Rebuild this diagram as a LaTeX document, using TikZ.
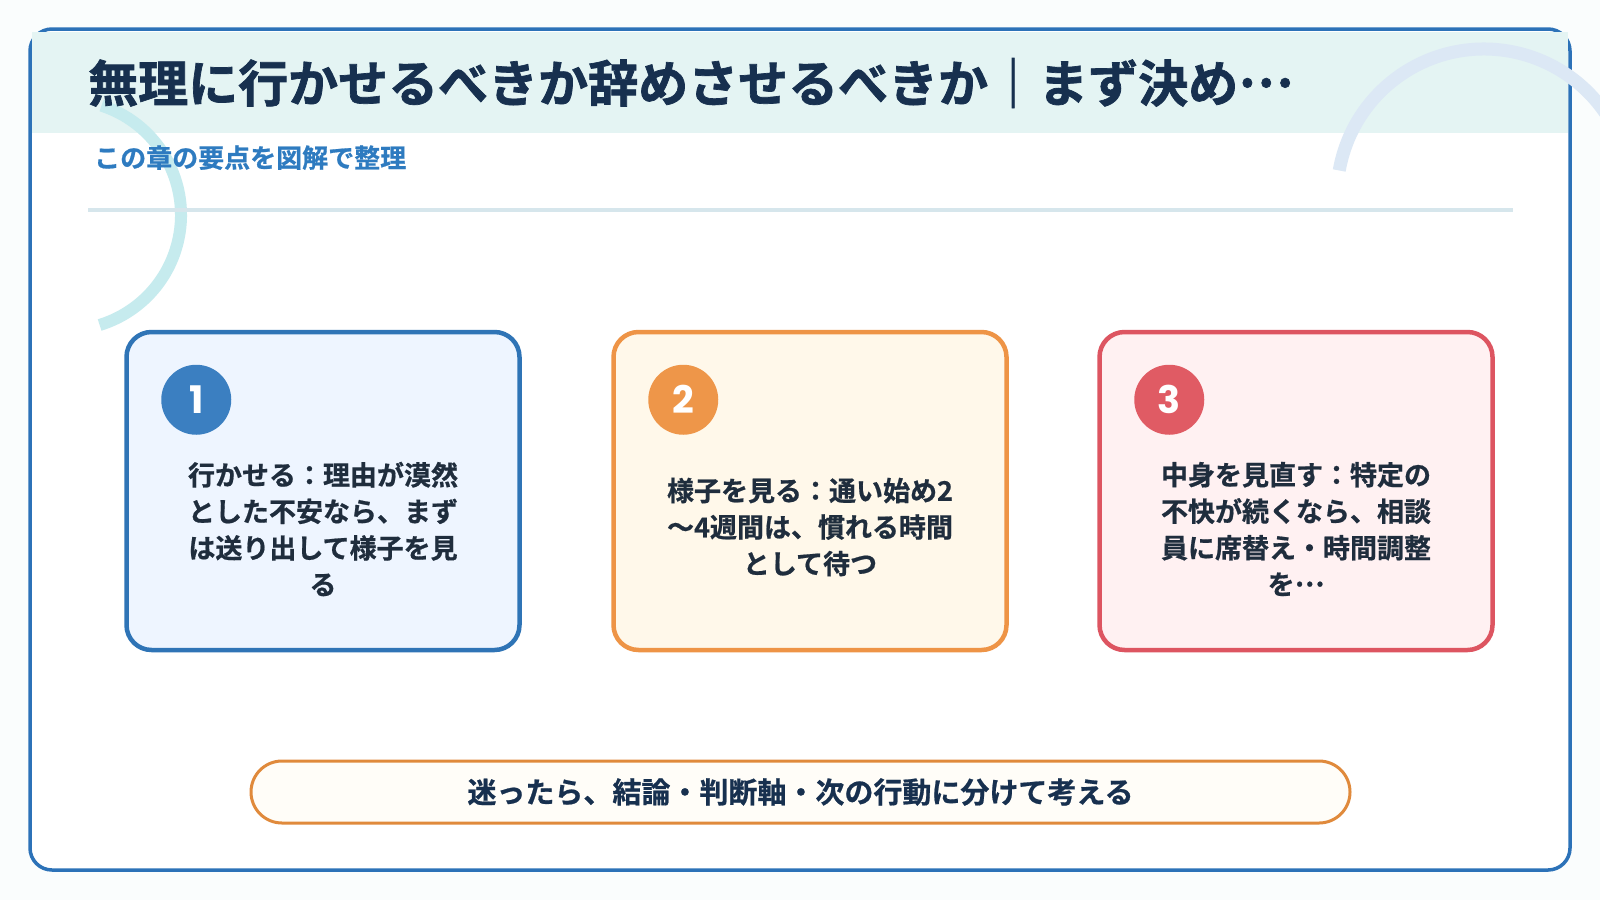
\documentclass[tikz,border=0pt]{standalone}
\usepackage{fontspec}
\setmainfont{Noto Sans CJK JP}[BoldFont={Noto Sans CJK JP Bold}]
\newfontfamily\titlefont{Noto Sans CJK JP Bold}[FakeBold=1.4]
\newfontfamily\heavyfont{Noto Sans CJK JP Bold}[FakeBold=0.7]
\newfontfamily\popfont{Poppins}
\newcommand{\middots}{\raisebox{0.3em}{…}}
\usetikzlibrary{calc}
\definecolor{bgc}{HTML}{FAFDFD}
\definecolor{framec}{HTML}{2C72B8}
\definecolor{bandc}{HTML}{E4F4F3}
\definecolor{arcl}{HTML}{C6EBEE}
\definecolor{arcr}{HTML}{DCE8F5}
\definecolor{rulec}{HTML}{D6E6EC}
\definecolor{titlec}{HTML}{17304F}
\definecolor{subc}{HTML}{2E7BC0}
\definecolor{textc}{HTML}{1F2D3D}
\definecolor{bluebd}{HTML}{2F74B6}
\definecolor{bluefl}{HTML}{EEF5FF}
\definecolor{bluecc}{HTML}{3B7FC1}
\definecolor{orgbd}{HTML}{EE9446}
\definecolor{orgfl}{HTML}{FFF8EA}
\definecolor{orgcc}{HTML}{EE9649}
\definecolor{redbd}{HTML}{DD5561}
\definecolor{redfl}{HTML}{FFF1F2}
\definecolor{redcc}{HTML}{E05B64}
\definecolor{pillbd}{HTML}{E08A3C}
\definecolor{pillfl}{HTML}{FFFDF8}
\begin{document}
\begin{tikzpicture}[x=1pt,y=-1pt,
  cardbox/.style={rectangle, rounded corners=25pt, line width=4.5pt,
    minimum width=393pt, minimum height=318pt, inner sep=0pt},
  numcirc/.style={circle, minimum size=70pt, inner sep=0pt, text=white,
    font=\popfont\bfseries\fontsize{38}{40}\selectfont},
  cardtext/.style={align=center, text=textc, inner sep=0pt,
    font=\heavyfont\fontsize{27}{36.5}\selectfont},
  pillbox/.style={rectangle, rounded corners=31pt, line width=3pt,
    draw=pillbd, fill=pillfl, minimum width=1099pt, minimum height=62pt,
    text=titlec, font=\heavyfont\fontsize{29}{32}\selectfont}]
\useasboundingbox (0,0) rectangle (1600,900);
\clip (0,0) rectangle (1600,900);
\fill[bgc] (0,0) rectangle (1600,900);
% frame
\draw[framec, fill=white, line width=3.5pt, rounded corners=22pt] (30,29) rectangle (1570,870);
% header band
\fill[bandc] (32,32) rectangle (1568,133);
% decorative arcs
\draw[arcl, line width=12pt] ($(66,215)+(-72:115)$) arc[start angle=-72, end angle=73, radius=115];
\draw[arcr, line width=13pt] ($(1484,196)+(-170:147)$) arc[start angle=-170, end angle=30, radius=147];
% rule
\draw[rulec, line width=4pt] (88,210) -- (1513,210);
% title
\node[anchor=base west, inner sep=0pt, text=titlec, font=\titlefont\fontsize{50}{58}\selectfont] (title) at (88,102) {無理に行かせるべきか辞めさせるべきか｜まず決め\middots};
\node[anchor=base west, inner sep=0pt, text=subc, font=\heavyfont\fontsize{26}{30}\selectfont] (sub) at (94,167.5) {この章の要点を図解で整理};
% cards
\node[cardbox, draw=bluebd, fill=bluefl] (c1) at (323,491) {};
\node[cardbox, draw=orgbd, fill=orgfl] (c2) at (810,491) {};
\node[cardbox, draw=redbd, fill=redfl] (c3) at (1296,491) {};
\node[numcirc, fill=bluecc] (n1) at ($(c1.north west)+(72,70)$) {1};
\node[numcirc, fill=orgcc] (n2) at ($(c2.north west)+(72,70)$) {2};
\node[numcirc, fill=redcc] (n3) at ($(c3.north west)+(72,70)$) {3};
\node[cardtext] (t1) at (323,529) {行かせる：理由が漠然\\とした不安なら、まず\\は送り出して様子を見\\る};
\node[cardtext] (t2) at (810,527) {様子を見る：通い始め2\\〜4週間は、慣れる時間\\として待つ};
\node[cardtext] (t3) at (1296,529) {中身を見直す：特定の\\不快が続くなら、相談\\員に席替え・時間調整\\を\middots};
% bottom pill
\node[pillbox] (pill) at (800.5,792) {迷ったら、結論・判断軸・次の行動に分けて考える};
\end{tikzpicture}
\end{document}
